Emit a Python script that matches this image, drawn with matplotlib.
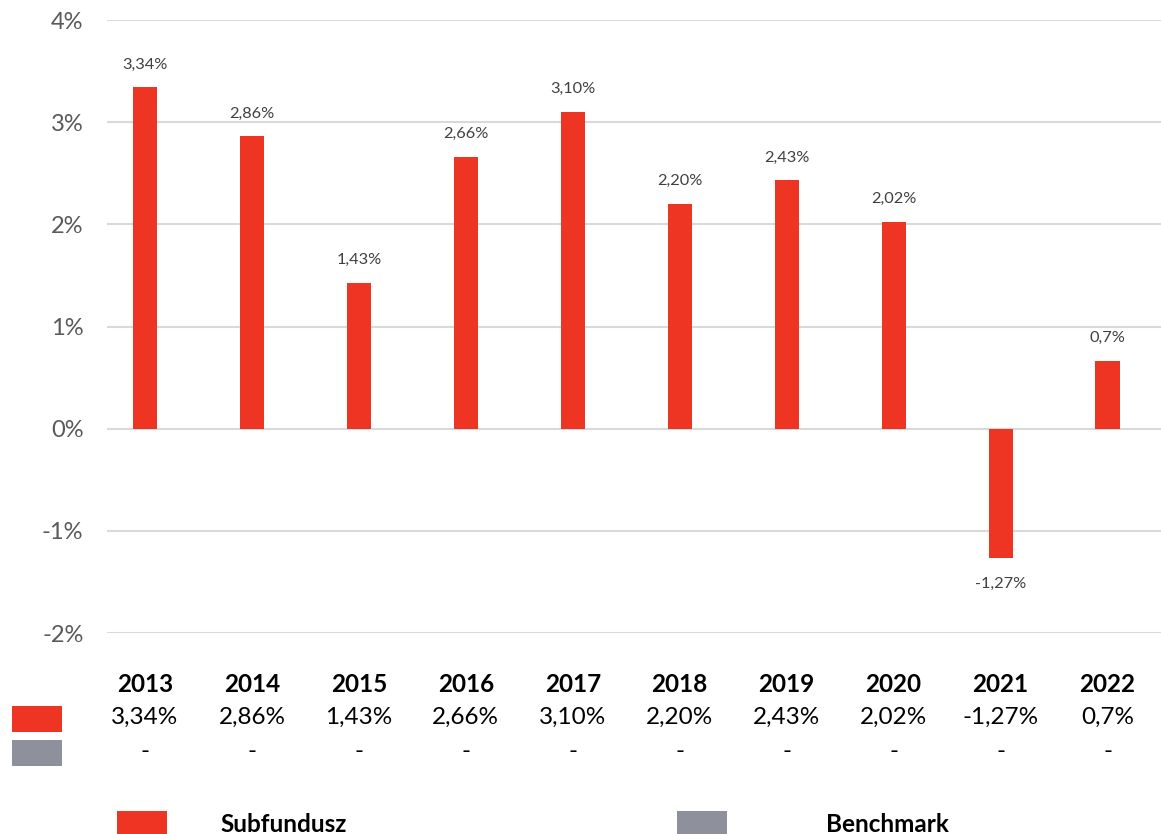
import matplotlib
matplotlib.use("Agg")
import matplotlib.pyplot as plt
from matplotlib.patches import Rectangle
from matplotlib.transforms import blended_transform_factory

plt.rcParams['font.family'] = ['Lato', 'DejaVu Sans']

years = ["2013", "2014", "2015", "2016", "2017", "2018", "2019", "2020", "2021", "2022"]
fund = [3.34, 2.86, 1.43, 2.66, 3.10, 2.20, 2.43, 2.02, -1.27, 0.66]
fund_labels = ["3,34%", "2,86%", "1,43%", "2,66%", "3,10%", "2,20%", "2,43%", "2,02%", "-1,27%", "0,7%"]
bench_labels = ["-"] * 10
yticks = [-2, -1, 0, 1, 2, 3, 4]
legend_names = ["Subfundusz", "Benchmark"]

RED = "#EE3524"
GREY = "#8E909B"

W, H = 1161, 834
fig = plt.figure(figsize=(W / 100, H / 100), dpi=100)
ax = fig.add_axes([107 / W, 1 - 633 / H, 1 - 107 / W, (633 - 20) / H])

x = list(range(len(years)))
ax.bar(x, fund, width=0.225, color=RED, zorder=3)
ax.set_xlim(-0.355, 9.5)
ax.set_ylim(-2, 4)
ax.set_yticks(yticks)
ax.set_yticklabels([f"{t}%" for t in yticks], fontsize=17, color="#595959")
ax.set_xticks([])
ax.grid(axis="y", color="#D9D9D9", linewidth=1.5, zorder=0)
for s in ax.spines.values():
    s.set_visible(False)
ax.tick_params(axis="y", length=0, pad=17)

for xi, v, lab in zip(x, fund, fund_labels):
    off = 16.5 if v >= 0 else -18
    ax.annotate(lab, (xi, v), xytext=(0, off), textcoords="offset points",
                ha="center", va="center", fontsize=11.8, color="#404040")

# data table below the chart
tr = blended_transform_factory(ax.transData, fig.transFigure)
for xi, yr, fl, bl in zip(x, years, fund_labels, bench_labels):
    fig.text(xi, 1 - 684 / H, yr, transform=tr, ha="center", va="center",
             fontsize=17.5, fontweight="bold", color="black")
    fig.text(xi, 1 - 717 / H, fl, transform=tr, ha="center", va="center",
             fontsize=17.5, color="black")
    fig.text(xi, 1 - 752 / H, bl, transform=tr, ha="center", va="center",
             fontsize=17.5, color="black")

def swatch(x0, y0, w, h, c):
    fig.add_artist(Rectangle((x0 / W, 1 - (y0 + h) / H), w / W, h / H,
                             transform=fig.transFigure, color=c, lw=0))

swatch(12, 706, 50, 26, RED)
swatch(12, 740, 50, 26, GREY)

# legend (partly running off the bottom edge)
swatch(117, 811, 50, 30, RED)
swatch(677, 811, 50, 30, GREY)
fig.text(220 / W, 1 - 832 / H, legend_names[0], ha="left", va="baseline",
         fontsize=17.5, fontweight="bold", color="black")
fig.text(826 / W, 1 - 832 / H, legend_names[1], ha="left", va="baseline",
         fontsize=17.5, fontweight="bold", color="black")

fig.savefig("out.png", dpi=100)
